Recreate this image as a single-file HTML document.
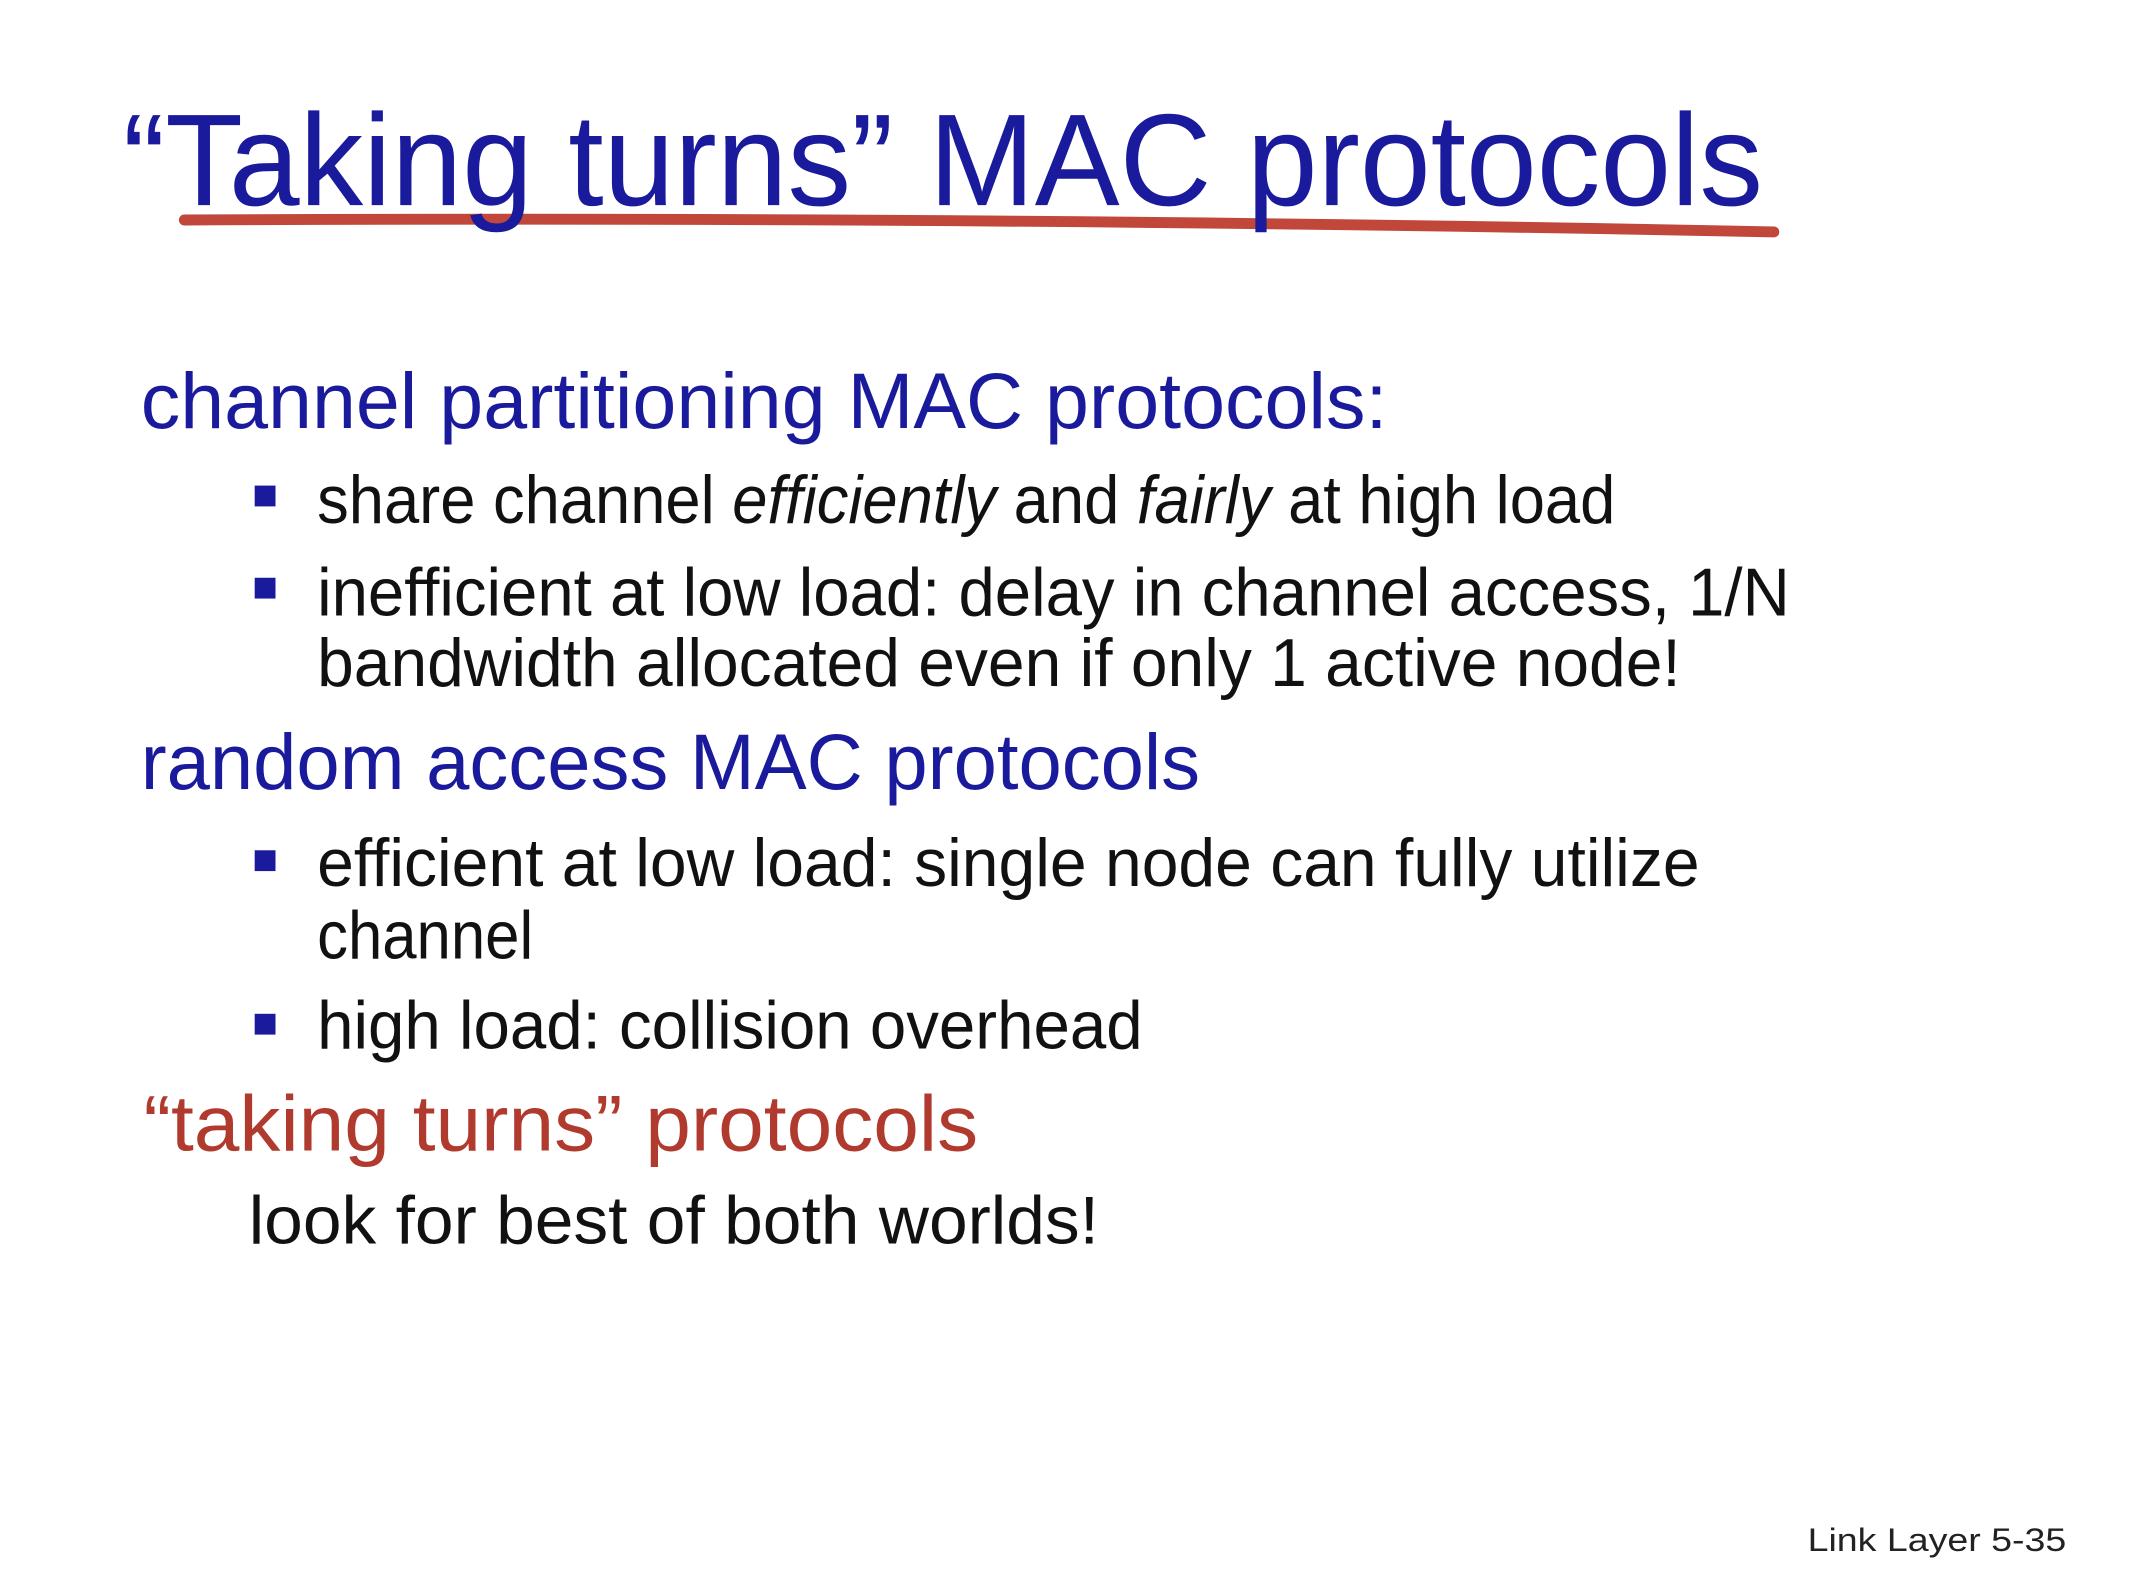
<!DOCTYPE html>
<html><head><meta charset="utf-8"><style>html,body{margin:0;padding:0;background:#fff}svg{display:block}</style></head>
<body>
<svg width="2140" height="1578" viewBox="0 0 2140 1578" xmlns="http://www.w3.org/2000/svg" font-family="Liberation Sans, sans-serif">
<rect width="2140" height="1578" fill="#fff"/>
<g transform="scale(0.991)">
<path d="M186 222 Q1000 218 1790 234" stroke="#c0473a" stroke-width="11" fill="none" stroke-linecap="round"/>
<text x="124" y="207" font-size="132" fill="#1a1a9c" textLength="1655" lengthAdjust="spacingAndGlyphs">“Taking turns” MAC protocols</text>
<g fill="#1a1a9c" font-size="80">
<text x="142" y="432" textLength="1258" lengthAdjust="spacingAndGlyphs">channel partitioning MAC protocols:</text>
<text x="142" y="796" textLength="1069" lengthAdjust="spacingAndGlyphs">random access MAC protocols</text>
</g>
<text x="145" y="1161" font-size="80" fill="#b03a2e" textLength="842" lengthAdjust="spacingAndGlyphs">“taking turns” protocols</text>
<g fill="#1a1a9c">
<rect x="257" y="490" width="21" height="21"/>
<rect x="257" y="583" width="21" height="21"/>
<rect x="257" y="858" width="21" height="21"/>
<rect x="257" y="1023" width="21" height="21"/>
</g>
<g fill="#111" font-size="68">
<text x="320" y="528" textLength="1310" lengthAdjust="spacingAndGlyphs">share channel <tspan font-style="italic">efficiently</tspan> and <tspan font-style="italic">fairly</tspan> at high load</text>
<text x="320" y="621" textLength="1486" lengthAdjust="spacingAndGlyphs">inefficient at low load: delay in channel access, 1/N</text>
<text x="320" y="692" textLength="1376" lengthAdjust="spacingAndGlyphs">bandwidth allocated even if only 1 active node!</text>
<text x="320" y="894" textLength="1395" lengthAdjust="spacingAndGlyphs">efficient at low load: single node can fully utilize</text>
<text x="320" y="967" textLength="218" lengthAdjust="spacingAndGlyphs">channel</text>
<text x="320" y="1058" textLength="833" lengthAdjust="spacingAndGlyphs">high load: collision overhead</text>
<text x="251" y="1255" textLength="858" lengthAdjust="spacingAndGlyphs">look for best of both worlds!</text>
</g>
<text x="1824" y="1565" font-size="33" fill="#222" textLength="261" lengthAdjust="spacingAndGlyphs">Link Layer  5-35</text>
</g>
</svg>
</body></html>
